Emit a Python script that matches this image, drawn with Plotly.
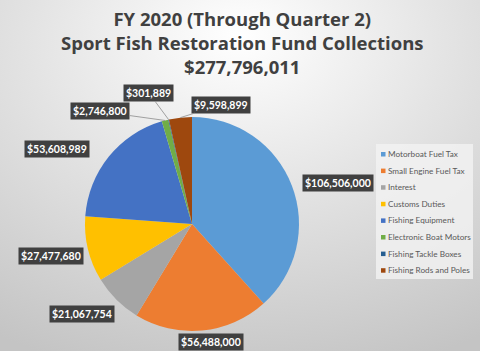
import base64
import math
import plotly.graph_objects as go

# ---- data ----
categories = ["Motorboat Fuel Tax", "Small Engine Fuel Tax", "Interest", "Customs Duties",
              "Fishing Equipment", "Electronic Boat Motors", "Fishing Tackle Boxes",
              "Fishing Rods and Poles"]
values = [106506000, 56488000, 21067754, 27477680, 53608989, 2746800, 301889, 9598899]
title_lines = ["FY 2020 (Through Quarter 2)", "Sport Fish Restoration Fund Collections", "$277,796,011"]

# ---- styles ----
colors = ["#5B9BD5", "#ED7D31", "#A5A5A5", "#FFC000", "#4472C4", "#70AD47", "#255E91", "#9E480E"]
# label offsets (px) from slice edge point
label_offsets = [(46, -3), (9, 11), (-35, 14), (-37, 7), (-52, -8), (-65, -9), (-20, -27), (41, -13)]
show_line = [False, False, False, False, False, True, True, True]

W, H = 480, 351
cx, cy, R = 192, 224, 107  # pie center/radius in px

svg = f'''<svg xmlns="http://www.w3.org/2000/svg" width="{W}" height="{H}">
<defs><radialGradient id="g" cx="50%" cy="15%" r="95%" fx="50%" fy="10%">
<stop offset="0%" stop-color="#ffffff"/><stop offset="45%" stop-color="#e4e4e4"/>
<stop offset="100%" stop-color="#c4c4c4"/></radialGradient></defs>
<rect width="{W}" height="{H}" fill="url(#g)"/></svg>'''
bg_src = "data:image/svg+xml;base64," + base64.b64encode(svg.encode()).decode()

fig = go.Figure(go.Pie(
    labels=categories, values=values, sort=False, direction="clockwise", rotation=0,
    marker=dict(colors=colors, line=dict(width=0)), textinfo="none", hoverinfo="label+value",
    automargin=False, showlegend=False,
    domain=dict(x=[(cx - R) / W, (cx + R) / W], y=[(H - cy - R) / H, (H - cy + R) / H]),
))

total = sum(values)
cum = 0
annotations = []
for v, (dx, dy), sl in zip(values, label_offsets, show_line):
    mid = (cum + v / 2) / total * 2 * math.pi
    cum += v
    ex = cx + R * math.sin(mid)
    ey = cy - R * math.cos(mid)
    annotations.append(dict(
        x=ex / W, y=1 - ey / H, xref="paper", yref="paper",
        text=f"<b>${v:,}</b>", showarrow=True, arrowhead=0, arrowwidth=0.8,
        arrowcolor="#8c8c8c" if sl else "rgba(0,0,0,0)", ax=dx, ay=dy,
        bgcolor="#404040", borderpad=2, font=dict(family="Lato", size=10.5, color="white"),
    ))

# title (one block)
annotations.append(dict(
    x=242 / W, y=1 - 42 / H, xref="paper", yref="paper", xanchor="center", yanchor="middle",
    text="<br>".join(f"<b>{t}</b>" for t in title_lines), showarrow=False,
    font=dict(family="Open Sans", size=18.5, color="#404040"),
))

# custom legend
lg_x0, lg_y0, lg_x1, lg_y1 = 376, 144, 473, 279
row0, row_h = 154, 16.6
shapes = [dict(type="rect", xref="paper", yref="paper", x0=lg_x0 / W, x1=lg_x1 / W,
               y0=1 - lg_y1 / H, y1=1 - lg_y0 / H, fillcolor="rgba(242,242,242,0.8)",
               line=dict(width=0), layer="below")]
for i, (c, col) in enumerate(zip(categories, colors)):
    yy = row0 + row_h * i
    shapes.append(dict(type="rect", xref="paper", yref="paper",
                       x0=381 / W, x1=385.5 / W, y0=1 - (yy + 2.5) / H, y1=1 - (yy - 2) / H,
                       fillcolor=col, line=dict(width=0)))
    annotations.append(dict(x=386 / W, y=1 - yy / H, xref="paper", yref="paper",
                            xanchor="left", yanchor="middle", text=c, showarrow=False,
                            font=dict(family="Lato", size=8.2, color="#595959")))

fig.update_layout(
    width=W, height=H, margin=dict(l=0, r=0, t=0, b=0),
    paper_bgcolor="#dcdcdc", plot_bgcolor="#dcdcdc",
    images=[dict(source=bg_src, xref="paper", yref="paper", x=0, y=1, sizex=1, sizey=1,
                 sizing="stretch", layer="below", xanchor="left", yanchor="top")],
    annotations=annotations, shapes=shapes, showlegend=False,
)
fig.write_html("out.html")
